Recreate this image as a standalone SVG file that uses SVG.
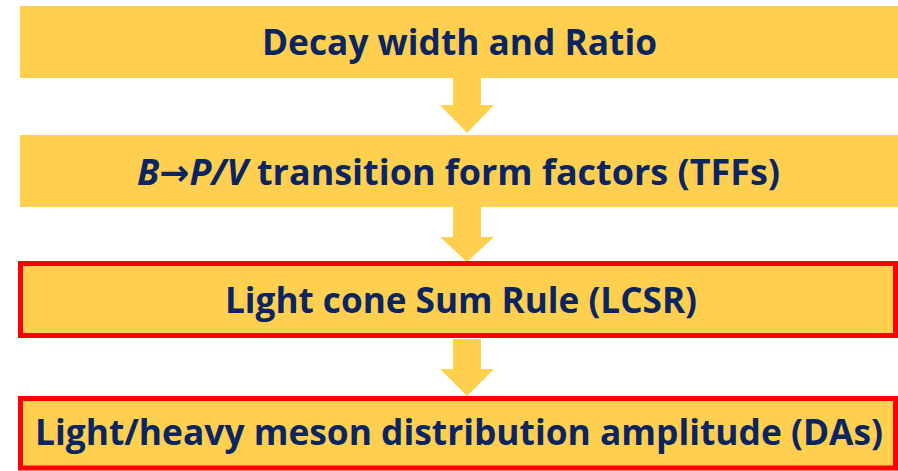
<svg xmlns="http://www.w3.org/2000/svg" width="898" height="471" viewBox="0 0 898 471">
<style>
.box{fill:#FFCF4F;}
.red{fill:#FFCF4F;stroke:#FF0000;stroke-width:5;}
.lbl{font-family:"Open Sans","Noto Sans","Liberation Sans",sans-serif;font-weight:bold;font-size:36px;fill:#0B2561;}
.arr{fill:#FFCF4F;}
.sym{font-family:"DejaVu Sans",sans-serif;font-style:normal;}
</style>
<rect width="898" height="471" fill="#FFFFFF"/>
<g id="connectors">
<polygon class="arr" points="453,78 481,78 481,105 494,105 467,133 440,105 453,105"/>
<polygon class="arr" points="453,207 481,207 481,237 494,237 467,262 440,237 453,237"/>
<polygon class="arr" points="453,339 481,339 481,369 494,369 467,396 440,369 453,369"/>
</g>
<g id="n1">
<rect class="box" x="20" y="6" width="878" height="72"/>
<text class="lbl" x="262" y="55" textLength="395" lengthAdjust="spacingAndGlyphs">Decay width and Ratio</text>
</g>
<g id="n2">
<rect class="box" x="20" y="135" width="878" height="72"/>
<text class="lbl" x="137" y="185" textLength="643" lengthAdjust="spacingAndGlyphs"><tspan font-style="italic">B</tspan><tspan class="sym">→</tspan><tspan font-style="italic">P/V</tspan> transition form factors (TFFs)</text>
</g>
<g id="n3">
<rect class="red" x="20.5" y="263.5" width="875" height="72"/>
<text class="lbl" x="225" y="313" textLength="472" lengthAdjust="spacingAndGlyphs">Light cone Sum Rule (LCSR)</text>
</g>
<g id="n4">
<rect class="red" x="20.5" y="398.5" width="875" height="69.5"/>
<text class="lbl" x="35" y="445" textLength="848" lengthAdjust="spacingAndGlyphs">Light/heavy meson distribution amplitude (DAs)</text>
</g>
</svg>
